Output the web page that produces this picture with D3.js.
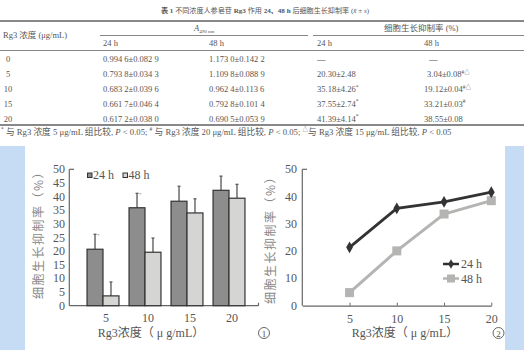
<!DOCTYPE html>
<html><head><meta charset="utf-8">
<script src="https://cdn.jsdelivr.net/npm/d3@7"></script>
<style>
body{margin:0;background:#fff;}
svg{display:block;}
text{font-family:"Liberation Serif","Noto Sans CJK SC",serif;}
</style></head>
<body><svg id="c" width="524" height="350"></svg>
<script>
// ---- data ----
const concentrations = ["5","10","15","20"];
const rate24 = [20.7, 35.9, 38.3, 42.3];
const rate48 = [3.6, 19.6, 34.0, 39.4];
const err24 = [5.5, 5.3, 5.5, 5.2];
const err48 = [5.1, 5.2, 5.2, 5.1];
const line24 = [21.4, 35.7, 38.1, 41.6];
const line48 = [4.8, 20.1, 33.6, 38.5];
const barTicks = [0,5,10,15,20,25,30,35,40,45,50];
const lineTicks = [0,10,20,30,40,50];
const lineXTicks = [5,10,15,20];

const tableConc = ["0","5","10","15","20"];
const tabA24 = ["0.994 6±0.082 9","0.793 8±0.034 3","0.683 2±0.039 6","0.661 7±0.046 4","0.617 2±0.038 0"];
const tabA48 = ["1.173 0±0.142 2","1.109 8±0.088 9","0.962 4±0.113 6","0.792 8±0.101 4","0.690 5±0.053 9"];
const tabI24 = ["—","20.30±2.48","35.18±4.26","37.55±2.74","41.39±4.14"];
const tabI24Mark = ["","","*","*","*"];
const tabI48 = ["—","3.04±0.08","19.12±0.04","33.21±0.03","38.55±0.08"];
const tabI48Mark = ["","#△","#△","#",""];

const svg = d3.select("#c");
const tcol = "#555";

// ---- table ----
const T = svg.append("g").attr("fill", tcol).style("font-size","8.5px");
const title = T.append("text").attr("x",265).attr("y",12.5).attr("text-anchor","middle").style("font-size","7.1px");
const tparts = [["b","表 1   "],["n","不同浓度人参皂苷 "],["b","Rg3"],["n"," 作用 "],["b","24、48 h"],["n"," 后细胞生长抑制率 ("],["i","x̄"],["n"," ± "],["i","s"],["n",")"]];
tparts.forEach(([k,s])=>{
  const ts = title.append("tspan").text(s);
  if(k==="b") ts.attr("font-weight","bold");
  if(k==="i") ts.attr("font-style","italic");
});

const rule = (x1,x2,y,w)=>T.append("line").attr("x1",x1).attr("x2",x2).attr("y1",y).attr("y2",y).attr("stroke","#888").attr("stroke-width",w);
rule(0,524,21,2);
rule(100,308,35.5,1);
rule(313,524,35.5,1);
rule(0,524,50.5,1.2);
rule(0,524,125,2);

T.append("text").attr("x",3).attr("y",38).text("Rg3 浓度 (μg/mL)");
const ah = T.append("text").attr("x",194).attr("y",30.5);
ah.append("tspan").attr("font-style","italic").text("A");
ah.append("tspan").attr("dy",2).style("font-size","5px").text("490 nm");
T.append("text").attr("x",384).attr("y",31).text("细胞生长抑制率 (%)");
const colX = [103,209,317,424];
["24 h","48 h","24 h","48 h"].forEach((s,i)=>T.append("text").attr("x",colX[i]).attr("y",46).text(s));

const rowY = d3.scaleBand().domain(tableConc).range([52,126]);
const sup = (t, s) => { t.append("tspan").attr("dy",-3.5).style("font-size","5.5px").text(s); };
tableConc.forEach((c,i)=>{
  const y = rowY(c)+rowY.bandwidth()/2+3;
  T.append("text").attr("x",8).attr("y",y).attr("text-anchor","middle").text(c);
  T.append("text").attr("x",colX[0]).attr("y",y).text(tabA24[i]);
  T.append("text").attr("x",colX[1]).attr("y",y).text(tabA48[i]);
  const t3 = T.append("text").attr("x",colX[2]).attr("y",y);
  t3.append("tspan").text(tabI24[i]);
  if(tabI24Mark[i]) sup(t3, tabI24Mark[i]);
  const t4 = T.append("text").attr("x",colX[3]+(i===0?5:(i===1?3:0))).attr("y",y);
  t4.append("tspan").text(tabI48[i]);
  if(tabI48Mark[i]) sup(t4, tabI48Mark[i]);
});
const fn = T.append("text").attr("x",1).attr("y",134.5).style("font-size","8.7px");
const fparts = [["sup","*"],["n"," 与 Rg3 浓度 5 μg/mL 组比较, "],["i","P"],["n"," < 0.05; "],["sup","#"],["n"," 与 Rg3 浓度 20 μg/mL 组比较, "],["i","P"],["n"," < 0.05; "],["sup","△"],["n","与 Rg3 浓度 15 μg/mL 组比较, "],["i","P"],["n"," < 0.05"]];
let prevSup = false;
fparts.forEach(([k,s])=>{
  const ts = fn.append("tspan").text(s);
  if(k==="sup"){ ts.attr("dy",-3.5).style("font-size","5.5px"); prevSup = true; }
  else { if(prevSup) ts.attr("dy",3.5); prevSup = false; }
  if(k==="i") ts.attr("font-style","italic");
});

// ---- blue side panels ----
svg.append("rect").attr("x",0).attr("y",146).attr("width",25).attr("height",204).attr("fill","#c6dbf4");
svg.append("rect").attr("x",505).attr("y",146).attr("width",19).attr("height",204).attr("fill","#c6dbf4");

const axCol = "#666", lblCol = "#555";

// ---- chart 1: bars ----
const y1 = d3.scaleLinear().domain([0,50]).range([305.7,169.3]);
const x1 = d3.scaleBand().domain(concentrations).range([82,250]).paddingInner(0.24).paddingOuter(0.12);
const xs = d3.scaleBand().domain(["24","48"]).range([0,x1.bandwidth()]);
const G1 = svg.append("g");
G1.append("line").attr("x1",69.3).attr("x2",69.3).attr("y1",y1(50)).attr("y2",y1(0)).attr("stroke",axCol).attr("stroke-width",1.2);
G1.append("line").attr("x1",69.3).attr("x2",74).attr("y1",y1(50)).attr("y2",y1(50)).attr("stroke",axCol).attr("stroke-width",1.2);
G1.append("line").attr("x1",69.3).attr("x2",258.5).attr("y1",y1(0)).attr("y2",y1(0)).attr("stroke",axCol).attr("stroke-width",1.2);
G1.append("line").attr("x1",258.5).attr("x2",258.5).attr("y1",y1(0)).attr("y2",y1(0)-3).attr("stroke",axCol).attr("stroke-width",1.2);
G1.selectAll(".yt").data(barTicks).join("text").attr("x",65).attr("y",d=>y1(d)+4).attr("text-anchor","end")
  .attr("fill",lblCol).style("font-size","12px").text(d=>d);
const series = [{k:"24",v:rate24,e:err24,fill:"#8d8d8d"},{k:"48",v:rate48,e:err48,fill:"#d5d5d3"}];
series.forEach(s=>{
  const g = G1.append("g");
  g.selectAll("line.err").data(concentrations).join("line")
    .attr("x1",(c)=>x1(c)+xs(s.k)+xs.bandwidth()/2).attr("x2",(c)=>x1(c)+xs(s.k)+xs.bandwidth()/2)
    .attr("y1",(c,i)=>y1(s.v[i])).attr("y2",(c,i)=>y1(s.v[i]+s.e[i])).attr("stroke","#555").attr("stroke-width",1.3);
  g.selectAll("line.cap").data(concentrations).join("line")
    .attr("x1",(c)=>x1(c)+xs(s.k)+xs.bandwidth()/2-1.5).attr("x2",(c)=>x1(c)+xs(s.k)+xs.bandwidth()/2+1.5)
    .attr("y1",(c,i)=>y1(s.v[i]+s.e[i])).attr("y2",(c,i)=>y1(s.v[i]+s.e[i])).attr("stroke","#555").attr("stroke-width",1.2);
  g.selectAll("rect").data(concentrations).join("rect")
    .attr("x",c=>x1(c)+xs(s.k)).attr("width",xs.bandwidth())
    .attr("y",(c,i)=>y1(s.v[i])).attr("height",(c,i)=>y1(0)-y1(s.v[i]))
    .attr("fill",s.fill).attr("stroke","#333").attr("stroke-width",1.2);
});
G1.append("g").attr("transform",`translate(3,${y1(0)})`)
  .call(d3.axisBottom(x1).tickSize(0).tickPadding(8))
  .call(g=>g.select(".domain").remove())
  .call(g=>g.selectAll("text").attr("fill",lblCol).style("font-size","12px").style("font-family",'"Liberation Serif",serif'));
// small significance marks
G1.append("text").attr("x",x1("5")+xs("24")+xs.bandwidth()/2+2).attr("y",y1(rate24[0]+err24[0])+3).attr("fill","#666").style("font-size","5px").text("*");
G1.append("text").attr("x",x1("10")+xs("24")+xs.bandwidth()/2+2).attr("y",y1(rate24[1]+err24[1])+3).attr("fill","#666").style("font-size","5px").text("*");
// legend
[["24 h","#8d8d8d",87.5],["48 h","#d5d5d3",123]].forEach(([t,f,x])=>{
  G1.append("rect").attr("x",x).attr("y",173).attr("width",4.5).attr("height",4.5).attr("fill",f).attr("stroke","#333").attr("stroke-width",1);
  G1.append("text").attr("x",x+5.5).attr("y",179).attr("fill",lblCol).style("font-size","12px").text(t);
});
G1.append("text").attr("transform","translate(43,232) rotate(-90)").attr("text-anchor","middle")
  .attr("fill","#888").style("font-size","12px").style("letter-spacing","1.5px").style("font-family",'"Noto Sans CJK SC",sans-serif').text("细胞生长抑制率（%）");
G1.append("text").attr("x",151).attr("y",337).attr("text-anchor","middle").attr("fill",lblCol).style("font-size","12px").text("Rg3浓度（ μ g/mL）");
G1.append("circle").attr("cx",264).attr("cy",333).attr("r",5.5).attr("fill","none").attr("stroke","#555").attr("stroke-width",0.9);
G1.append("text").attr("x",264).attr("y",336.5).attr("text-anchor","middle").attr("fill",lblCol).style("font-size","9px").text("1");

// ---- chart 2: lines ----
const y2 = d3.scaleLinear().domain([0,50]).range([305.7,169.3]);
const x2 = d3.scaleLinear().domain([0,20]).range([302.3,491.3]);
const G2 = svg.append("g");
G2.append("line").attr("x1",302.3).attr("x2",302.3).attr("y1",y2(50)).attr("y2",y2(0)).attr("stroke",axCol).attr("stroke-width",1.2);
G2.append("line").attr("x1",302.3).attr("x2",307).attr("y1",y2(50)).attr("y2",y2(50)).attr("stroke",axCol).attr("stroke-width",1.2);
G2.append("g").attr("transform",`translate(0,${y2(0)})`)
  .call(d3.axisBottom(x2).tickValues(lineXTicks).tickSizeInner(-3).tickSizeOuter(0).tickPadding(9))
  .call(g=>g.select(".domain").attr("stroke",axCol).attr("stroke-width",1.2))
  .call(g=>g.selectAll("line").attr("stroke",axCol))
  .call(g=>g.selectAll("text").attr("fill",lblCol).style("font-size","12px").style("font-family",'"Liberation Serif",serif'));
G2.selectAll(".yt").data(lineTicks).join("text").attr("x",297).attr("y",d=>y2(d)+4).attr("text-anchor","end")
  .attr("fill",lblCol).style("font-size","12px").text(d=>d);
const lineGen = d3.line().x((d,i)=>x2(+concentrations[i])).y(d=>y2(d));
G2.append("path").datum(line48).attr("d",lineGen).attr("fill","none").attr("stroke","#b4b4b2").attr("stroke-width",3);
G2.selectAll("rect.m48").data(line48).join("rect").attr("x",(d,i)=>x2(+concentrations[i])-4.5).attr("y",d=>y2(d)-4.5)
  .attr("width",9).attr("height",9).attr("fill","#b4b4b2");
G2.append("path").datum(line24).attr("d",lineGen).attr("fill","none").attr("stroke","#333").attr("stroke-width",2.8);
G2.selectAll("path.m24").data(line24).join("path").attr("transform",(d,i)=>`translate(${x2(+concentrations[i])},${y2(d)})`)
  .attr("d",d3.symbol(d3.symbolDiamond,40)).attr("fill","#333");
// legend
G2.append("line").attr("x1",443).attr("x2",459).attr("y1",264).attr("y2",264).attr("stroke","#333").attr("stroke-width",2.5);
G2.append("path").attr("transform","translate(451,264)").attr("d",d3.symbol(d3.symbolDiamond,25)).attr("fill","#333");
G2.append("text").attr("x",461).attr("y",268).attr("fill",lblCol).style("font-size","12px").text("24 h");
G2.append("line").attr("x1",443).attr("x2",459).attr("y1",278.5).attr("y2",278.5).attr("stroke","#b4b4b2").attr("stroke-width",2.5);
G2.append("rect").attr("x",447).attr("y",274.5).attr("width",8).attr("height",8).attr("fill","#b4b4b2");
G2.append("text").attr("x",461).attr("y",282.5).attr("fill",lblCol).style("font-size","12px").text("48 h");
G2.append("text").attr("transform","translate(275,237) rotate(-90)").attr("text-anchor","middle")
  .attr("fill","#888").style("font-size","12px").style("letter-spacing","1.5px").style("font-family",'"Noto Sans CJK SC",sans-serif').text("细胞生长抑制率（%）");
G2.append("text").attr("x",405).attr("y",337).attr("text-anchor","middle").attr("fill",lblCol).style("font-size","12px").text("Rg3浓度（ μ g/mL）");
G2.append("circle").attr("cx",498.5).attr("cy",333).attr("r",5.5).attr("fill","none").attr("stroke","#555").attr("stroke-width",0.9);
G2.append("text").attr("x",498.5).attr("y",336.5).attr("text-anchor","middle").attr("fill",lblCol).style("font-size","9px").text("2");
</script></body></html>
